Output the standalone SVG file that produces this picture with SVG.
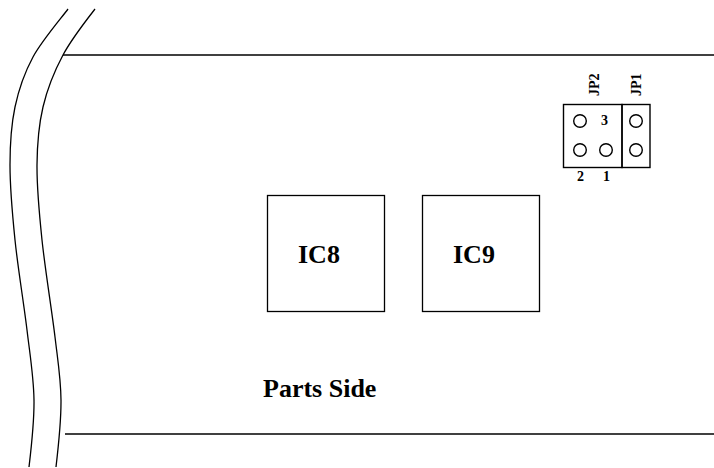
<svg xmlns="http://www.w3.org/2000/svg" width="714" height="468" viewBox="0 0 714 468">
<style>
.l{fill:none;stroke:#000;stroke-width:1.3}
.j{fill:none;stroke:#000;stroke-width:1.4}
text{font-family:"Liberation Serif","Times New Roman",serif;font-weight:bold;fill:#000}
.s{font-size:14px}
.b{font-size:26px}
</style>
<rect width="714" height="468" fill="#fff"/>
<g id="connectors">
<path class="l" d="M68 9C62.200 17 41.800 40.700 33 57C24.200 73.300 18.800 89 15 107C11.200 125 10 142.800 10 165C10 187.200 12.200 212.500 15 240C17.800 267.500 23.800 303.300 27 330C30.200 356.700 33.700 377.200 34 400C34.300 422.800 31 450 29 467"/>
<path class="l" d="M95 9C88 18 71.700 38.700 63 55C54.300 71.300 47.300 88.700 43 107C38.700 125.300 37.200 142.800 37 165C36.800 187.200 39 211.300 42 240C45 268.700 51.800 310.300 55 337C58.200 363.700 60.800 378.300 61 400C61.200 421.700 58 450 56 467"/>
<path class="l" d="M63 55H714"/>
<path class="l" d="M65 434H714"/>
</g>
<g id="ic8"><rect class="l" x="267.500" y="195.500" width="117" height="116"/><text class="b" x="298" y="263">IC8</text></g>
<g id="ic9"><rect class="l" x="422.500" y="195.500" width="117" height="116"/><text class="b" x="453" y="263">IC9</text></g>
<g id="jp2">
<rect class="j" x="563.500" y="104.500" width="58.500" height="63"/>
<circle class="j" cx="580" cy="121" r="6.300"/>
<circle class="j" cx="580" cy="150" r="6.300"/>
<circle class="j" cx="606" cy="150" r="6.300"/>
<text class="s" x="601" y="125">3</text>
<text class="s" x="577" y="181">2</text>
<text class="s" x="603" y="181">1</text>
<text class="s" transform="translate(599 96) rotate(-90)">JP2</text>
</g>
<g id="jp1">
<rect class="j" x="622" y="104.500" width="28" height="63"/>
<circle class="j" cx="636" cy="121" r="6.300"/>
<circle class="j" cx="636" cy="150" r="6.300"/>
<text class="s" transform="translate(641 96) rotate(-90)">JP1</text>
</g>
<g id="parts-side"><text class="b" x="263" y="397">Parts Side</text></g>
</svg>
